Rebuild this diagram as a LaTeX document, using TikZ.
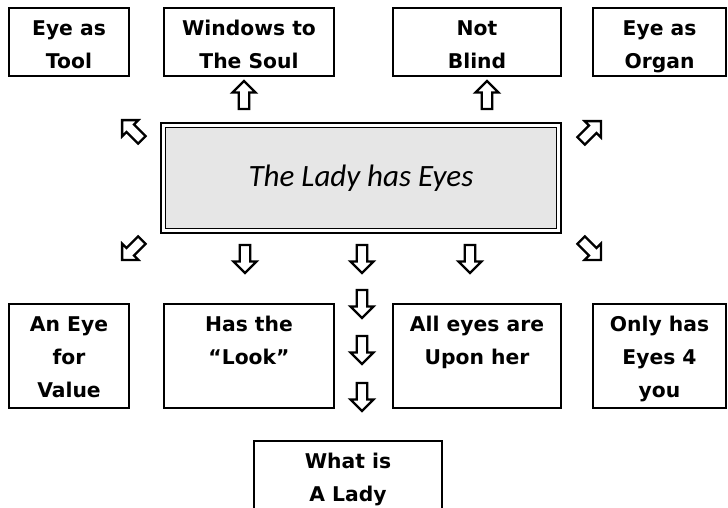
\documentclass[tikz,border=0pt]{standalone}
\usepackage{fontspec}
\usetikzlibrary{positioning}
\newfontfamily\boxfont{DejaVu Sans}
\newfontfamily\centerfont{Carlito}
\definecolor{panel}{HTML}{E6E6E6}
\newcommand\blockarrow[3]{\draw[glyph, shift={(#1,#2)}, rotate=#3] (0,-14) -- (11.5,-2.5) -- (5.25,-2.5) -- (5.25,14) -- (-5.25,14) -- (-5.25,-2.5) -- (-11.5,-2.5) -- cycle;}
\begin{document}
\begin{tikzpicture}[x=1pt,y=-1pt,
  box/.style={draw, line width=2pt, rectangle, inner sep=0pt, anchor=north west},
  lbl/.style={anchor=north, inner sep=0pt, align=center, font=\boxfont\bfseries\fontsize{20.3}{33}\selectfont},
  glyph/.style={draw, line width=2.3pt, fill=white, line join=miter}]
\useasboundingbox[fill=white] (0,0) rectangle (728,508);

% top row
\node[box, minimum width=120pt, minimum height=68pt] (tool) at (8,7) {};
\node[box, minimum width=170pt, minimum height=68pt] (soul) at (163,7) {};
\node[box, minimum width=168pt, minimum height=68pt] (blind) at (392,7) {};
\node[box, minimum width=133pt, minimum height=68pt] (organ) at (592,7) {};
\node[lbl, below=12.5pt of tool.north] (toolt) {\rule{0pt}{15.5pt}Eye as\\Tool};
\node[lbl, below=12.5pt of soul.north] (soult) {\rule{0pt}{15.5pt}Windows to\\The Soul};
\node[lbl, below=12.5pt of blind.north] (blindt) {\rule{0pt}{15.5pt}Not\\Blind};
\node[lbl, below=12.5pt of organ.north] (organt) {\rule{0pt}{15.5pt}Eye as\\Organ};

% centre
\node[draw, line width=2.5pt, fill=white, minimum width=400pt, minimum height=110pt, inner sep=0pt] (frame) at (361,178) {};
\node[draw, line width=1.1pt, fill=panel, minimum width=391pt, minimum height=101pt, inner sep=0pt,
      font=\centerfont\itshape\fontsize{31}{37}\selectfont] (core) at (361,178) {The Lady has Eyes};

% bottom row
\node[box, minimum width=120pt, minimum height=104pt] (value) at (8,303) {};
\node[box, minimum width=170pt, minimum height=104pt] (look) at (163,303) {};
\node[box, minimum width=168pt, minimum height=104pt] (upon) at (392,303) {};
\node[box, minimum width=133pt, minimum height=104pt] (only) at (592,303) {};
\node[lbl, below=12.5pt of value.north] (valuet) {\rule{0pt}{15.5pt}An Eye\\for\\Value};
\node[lbl, below=12.5pt of look.north] (lookt) {\rule{0pt}{15.5pt}Has the\\“Look”};
\node[lbl, below=12.5pt of upon.north] (upont) {\rule{0pt}{15.5pt}All eyes are\\Upon her};
\node[lbl, below=12.5pt of only.north] (onlyt) {\rule{0pt}{15.5pt}Only has\\Eyes 4\\you};

% final
\node[box, minimum width=188pt, minimum height=100pt] (lady) at (253,440) {};
\node[lbl, below=12.5pt of lady.north] (ladyt) {\rule{0pt}{15.5pt}What is\\A Lady};

% arrows
\blockarrow{244}{95}{0}
\blockarrow{487}{95}{0}
\blockarrow{132}{130}{45}
\blockarrow{591}{131}{-45}
\blockarrow{132}{250}{135}
\blockarrow{591}{250}{-135}
\blockarrow{245}{259}{180}
\blockarrow{362}{259}{180}
\blockarrow{470}{259}{180}
\blockarrow{362}{304}{180}
\blockarrow{362}{350}{180}
\blockarrow{362}{397}{180}
\end{tikzpicture}
\end{document}
